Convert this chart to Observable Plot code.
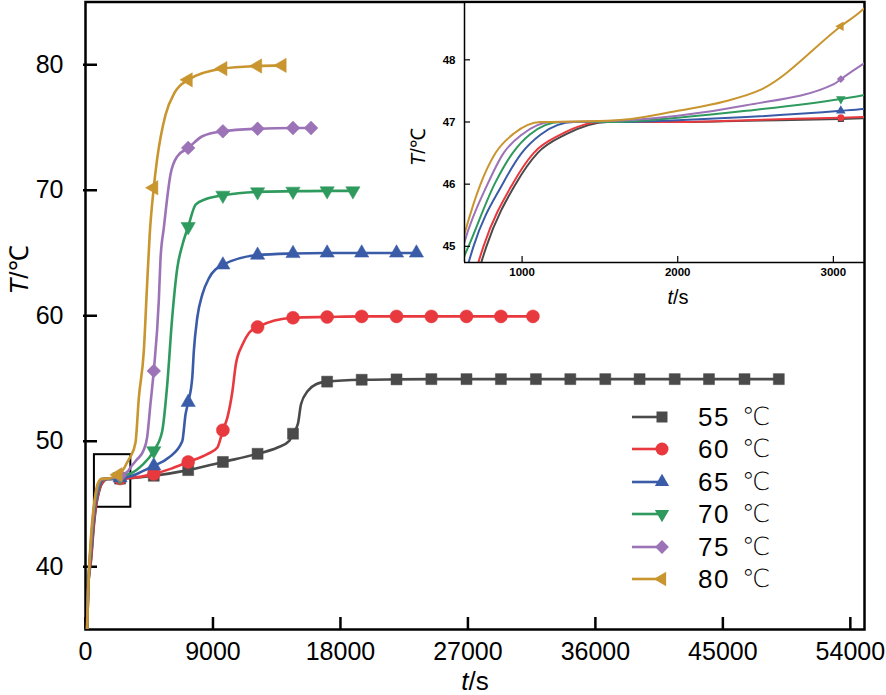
<!DOCTYPE html>
<html>
<head>
<meta charset="utf-8">
<script src="https://cdn.jsdelivr.net/npm/d3@7"></script>
<script src="https://cdn.jsdelivr.net/npm/@observablehq/plot@0.6"></script>
<style>
  body { margin: 0; background: #fff; }
  #wrap { position: relative; width: 886px; height: 695px; overflow: hidden; font-family: "Liberation Sans", Arial, sans-serif; color: #000; }
  .abs { position: absolute; white-space: nowrap; line-height: 1; }
</style>
</head>
<body>
<div id="wrap"></div>
<script>
// ---------- data ----------
const seriesNames = ["55 ℃", "60 ℃", "65 ℃", "70 ℃", "75 ℃", "80 ℃"];
const xTicks = [0, 9000, 18000, 27000, 36000, 45000, 54000];
const yTicks = [40, 50, 60, 70, 80];
const xDomain = [0, 55000];
const yDomain = [35, 85];
const insetXTicks = [1000, 2000, 3000];
const insetYTicks = [45, 46, 47, 48];
const insetT = [630, 3200];
const insetTemp = [44.74, 48.93];

// curves: [t (s), T (°C)]
const curve55 = [[0,30],[200,38.5],[400,40.6],[600,43.4],[771,45.0],[958,46.0],[1099,46.5],[1280,46.8],[1550,47.0],[2000,47.0],[2440,47.02],[3048,47.05],[3190,47.06],[4820,47.25],[7250,47.7],[9700,48.35],[12150,49.0],[13560,49.5],[14386,50.03],[14650,50.6],[15000,51.4],[15215,52.95],[15690,54.0],[16280,54.54],[17060,54.75],[19500,54.9],[21960,54.93],[24420,54.95],[26900,54.95],[29330,54.95],[31800,54.95],[34230,54.95],[36700,54.95],[39120,54.95],[41600,54.95],[44020,54.95],[46530,54.95],[48950,54.95]];
const curve60 = [[0,30],[200,38.5],[400,40.8],[600,43.6],[752,45.0],[938,46.0],[1074,46.5],[1250,46.8],[1505,47.0],[2000,47.0],[2440,47.03],[3048,47.07],[3190,47.08],[4820,47.4],[6000,47.8],[7250,48.35],[8600,48.97],[9310,49.5],[9700,50.88],[10020,51.9],[10375,54.0],[10610,56.1],[11085,57.7],[11550,58.65],[12150,59.1],[14650,59.84],[17060,59.9],[19500,59.95],[21960,59.95],[24420,59.95],[26900,59.95],[29330,59.95],[31590,59.95]];
const curve65 = [[0,30],[200,38.5],[400,41.4],[600,44.2],[688,45.0],[874,46.0],[997,46.5],[1120,46.8],[1331,47.0],[1700,47.0],[2000,47.03],[2440,47.08],[3048,47.18],[3190,47.21],[4000,47.6],[4820,48.04],[5880,48.7],[6830,50.0],[7065,52.15],[7250,53.1],[7540,55.1],[7650,57.2],[7890,59.84],[8250,61.7],[8720,63.0],[9700,64.05],[12150,64.83],[14650,64.96],[17060,65.0],[19500,65.0],[21960,65.0],[23365,65.0]];
const curve70 = [[0,30],[200,38.5],[400,41.8],[630,44.85],[656,45.0],[823,46.0],[939,46.5],[1050,46.8],[1247,47.0],[1600,47.0],[2000,47.07],[2440,47.18],[3048,47.37],[3190,47.43],[4000,48.1],[4820,49.24],[5415,50.8],[5770,54.5],[6120,59.84],[6480,63.8],[6830,65.6],[7250,67.1],[7775,68.86],[8500,69.3],[9700,69.6],[12150,69.87],[14650,69.92],[17060,69.95],[18880,69.95]];
const curve75 = [[0,30],[200,38.5],[400,42.2],[630,45.07],[778,46.0],[881,46.5],[1000,46.8],[1183,47.0],[1500,47.01],[2000,47.1],[2440,47.27],[3003,47.61],[3048,47.69],[3190,47.93],[3600,48.5],[4110,49.3],[4350,50.3],[4585,52.95],[4820,55.6],[5175,61.2],[5295,64.5],[5530,67.0],[6000,71.25],[6480,72.7],[7250,73.37],[8250,74.3],[9700,74.7],[12150,74.9],[14650,74.96],[15925,74.96]];
const curve80 = [[0,30],[200,38.5],[400,42.6],[630,45.2],[733,46.0],[829,46.5],[950,46.82],[1119,47.0],[1400,47.01],[1700,47.05],[2000,47.18],[2300,47.33],[2534,47.52],[3048,48.54],[3190,48.81],[3530,49.9],[3765,53.45],[4118,57.2],[4350,62.5],[4535,66.5],[4820,70.2],[5060,72.5],[5647,76.0],[6300,77.8],[7250,78.8],[9700,79.7],[12150,79.9],[13880,79.95]];

// marker times on the main chart
const marks55 = [2440,4820,7250,9700,12150,14650,17060,19500,21960,24420,26900,29330,31800,34230,36700,39120,41600,44020,46530,48950];
const marks60 = [2440,4820,7250,9700,12150,14650,17060,19500,21960,24420,26900,29330,31590];
const marks65 = [2440,4820,7250,9700,12150,14650,17060,19500,21960,23365];
const marks70 = [2440,4820,7250,9700,12150,14650,17060,18880];
const marks75 = [2440,4820,7250,9700,12150,14650,15925];
const marks80 = [2300,4820,7250,9700,12150,13880];
// marker time inside the inset
const insetMarks = [3048];

// ---------- styling ----------
const curves = [curve55, curve60, curve65, curve70, curve75, curve80];
const markTimes = [marks55, marks60, marks65, marks70, marks75, marks80];
const colors = ["#4a4a4a", "#e8393e", "#3a5ca8", "#2f9a5e", "#9b73b6", "#c8952f"];
const sqrt3 = Math.sqrt(3);
const triDown = { draw(c, size) { const y = -Math.sqrt(size / (sqrt3 * 3)); c.moveTo(0, -2 * y); c.lineTo(-sqrt3 * y, y); c.lineTo(sqrt3 * y, y); c.closePath(); } };
const triLeft = { draw(c, size) { const y = -Math.sqrt(size / (sqrt3 * 3)); c.moveTo(2 * y, 0); c.lineTo(-y, -sqrt3 * y); c.lineTo(-y, sqrt3 * y); c.closePath(); } };
const symbols = [d3.symbolSquare, d3.symbolCircle, d3.symbolTriangle, triDown, d3.symbolDiamond2, triLeft];
const radii = [6.2, 6.5, 5.3, 5.3, 6.2, 5.3];
const fontStack = '"Liberation Sans", Arial, sans-serif';

const rows = curves.map((c, i) => c.map(([t, T]) => ({series: seriesNames[i], t, T})));
const markRows = rows.map((r, i) => r.filter(d => markTimes[i].includes(d.t)));
const insetMarkRows = rows.map(r => r.filter(d => insetMarks.includes(d.t)));

const wrap = document.getElementById("wrap");

// layout
const W = 886, H = 695, mL = 85, mR = 22, mT = 1.5, mB = 66;
const plotW = W - mL - mR, plotH = H - mT - mB;
const iW = 466, iH = 306, imL = 64, imR = 2, imT = 1.5, imB = 44;
const iPlotW = iW - imL - imR, iPlotH = iH - imT - imB;

// ---------- main chart ----------
const mainMarks = [
  Plot.frame({strokeWidth: 2.5}),
  Plot.tickX(xTicks, {x: d => d, insetTop: plotH - 12, strokeWidth: 2.5}),
  Plot.tickY(yTicks, {y: d => d, insetRight: plotW - 12, insetLeft: -2, strokeWidth: 2.5}),
  Plot.axisX(xTicks, {tickSize: 0, tickPadding: 13, fontSize: 25, tickFormat: d => String(d), label: null}),
  Plot.axisY(yTicks, {tickSize: 0, tickPadding: 22, fontSize: 25, tickFormat: d => String(d), label: null}),
  Plot.rect([0], {x1: insetT[0], x2: insetT[1], y1: insetTemp[0], y2: insetTemp[1], fill: "none", stroke: "#000", strokeWidth: 2})
];
rows.forEach((r, i) => {
  mainMarks.push(Plot.line(r, {x: "t", y: "T", stroke: colors[i], strokeWidth: 2.6, curve: "monotone-x", clip: true}));
  mainMarks.push(Plot.dot(markRows[i], {x: "t", y: "T", fill: colors[i], stroke: colors[i], strokeWidth: 0.5, symbol: symbols[i], r: radii[i]}));
});
const main = Plot.plot({
  width: W, height: H,
  marginLeft: mL, marginRight: mR, marginTop: mT, marginBottom: mB,
  style: {fontFamily: fontStack, background: "transparent", color: "#000"},
  x: {domain: xDomain, label: null, axis: null},
  y: {domain: yDomain, label: null, axis: null},
  marks: mainMarks
});
main.style.position = "absolute"; main.style.left = "0px"; main.style.top = "0px";
wrap.appendChild(main);

// ---------- inset ----------
const insetMarksList = [
  Plot.frame({fill: "white", stroke: null, insetTop: 1.5, insetRight: 1.5})
];
rows.forEach((r, i) => {
  insetMarksList.push(Plot.line(r, {x: "t", y: "T", stroke: colors[i], strokeWidth: 2, curve: "monotone-x", clip: true}));
  insetMarksList.push(Plot.dot(insetMarkRows[i], {x: "t", y: "T", fill: colors[i], stroke: colors[i], symbol: symbols[i], r: 2.6}));
});
insetMarksList.push(
  Plot.ruleX([insetT[0]], {strokeWidth: 1.5}),
  Plot.ruleY([insetTemp[0]], {strokeWidth: 1.5}),
  Plot.tickX(insetXTicks, {x: d => d, insetTop: iPlotH - 6, strokeWidth: 1.2}),
  Plot.tickY(insetYTicks, {y: d => d, insetRight: iPlotW - 6, strokeWidth: 1.2}),
  Plot.axisX(insetXTicks, {tickSize: 0, tickPadding: 5, fontSize: 11.5, fontWeight: "bold", tickFormat: d => String(d), label: null}),
  Plot.axisY(insetYTicks, {tickSize: 0, tickPadding: 9, fontSize: 11.5, fontWeight: "bold", tickFormat: d => String(d), label: null})
);
const inset = Plot.plot({
  width: iW, height: iH,
  marginLeft: imL, marginRight: imR, marginTop: imT, marginBottom: imB,
  style: {fontFamily: fontStack, background: "transparent", color: "#000"},
  x: {domain: insetT, label: null, axis: null},
  y: {domain: insetTemp, label: null, axis: null},
  marks: insetMarksList
});
inset.style.position = "absolute"; inset.style.left = "400px"; inset.style.top = "0px";
wrap.appendChild(inset);

// ---------- axis titles ----------
function addLabel(html, cx, cy, size, rotate) {
  const el = document.createElement("div");
  el.className = "abs";
  el.innerHTML = html;
  el.style.left = cx + "px";
  el.style.top = cy + "px";
  el.style.fontSize = size + "px";
  el.style.transform = "translate(-50%,-50%)" + (rotate ? " rotate(-90deg)" : "");
  wrap.appendChild(el);
}
addLabel("<i>T</i>/℃", 19, 270, 26, true);
addLabel("<i>t</i>/s", 475, 681, 26, false);
addLabel("<i>T</i>/℃", 418, 147, 20, true);
addLabel("<i>t</i>/s", 678, 297, 20, false);

// ---------- legend ----------
seriesNames.forEach((name, i) => {
  const [num, unit] = name.split(" ");
  const cy = 417 + i * 32.4;
  const svg = d3.create("svg").attr("width", 44).attr("height", 32)
    .style("position", "absolute").style("left", "628px").style("top", (cy - 16) + "px");
  svg.append("line").attr("x1", 4).attr("x2", 34).attr("y1", 16).attr("y2", 16)
    .attr("stroke", colors[i]).attr("stroke-width", 2.6);
  svg.append("path").attr("transform", "translate(34,16)")
    .attr("d", d3.symbol(symbols[i], Math.PI * radii[i] * radii[i])())
    .attr("fill", colors[i]);
  wrap.appendChild(svg.node());
  const n = document.createElement("div");
  n.className = "abs";
  n.style.left = "698px"; n.style.top = (cy - 13) + "px";
  n.style.fontSize = "26px"; n.style.letterSpacing = "1.5px";
  n.textContent = num;
  wrap.appendChild(n);
  const u = document.createElement("div");
  u.className = "abs";
  u.style.left = "742px"; u.style.top = (cy - 13) + "px";
  u.style.fontSize = "25px"; u.style.fontFamily = "'DejaVu Sans'"; u.style.fontWeight = "200";
  u.textContent = unit;
  wrap.appendChild(u);
});
</script>
</body>
</html>
